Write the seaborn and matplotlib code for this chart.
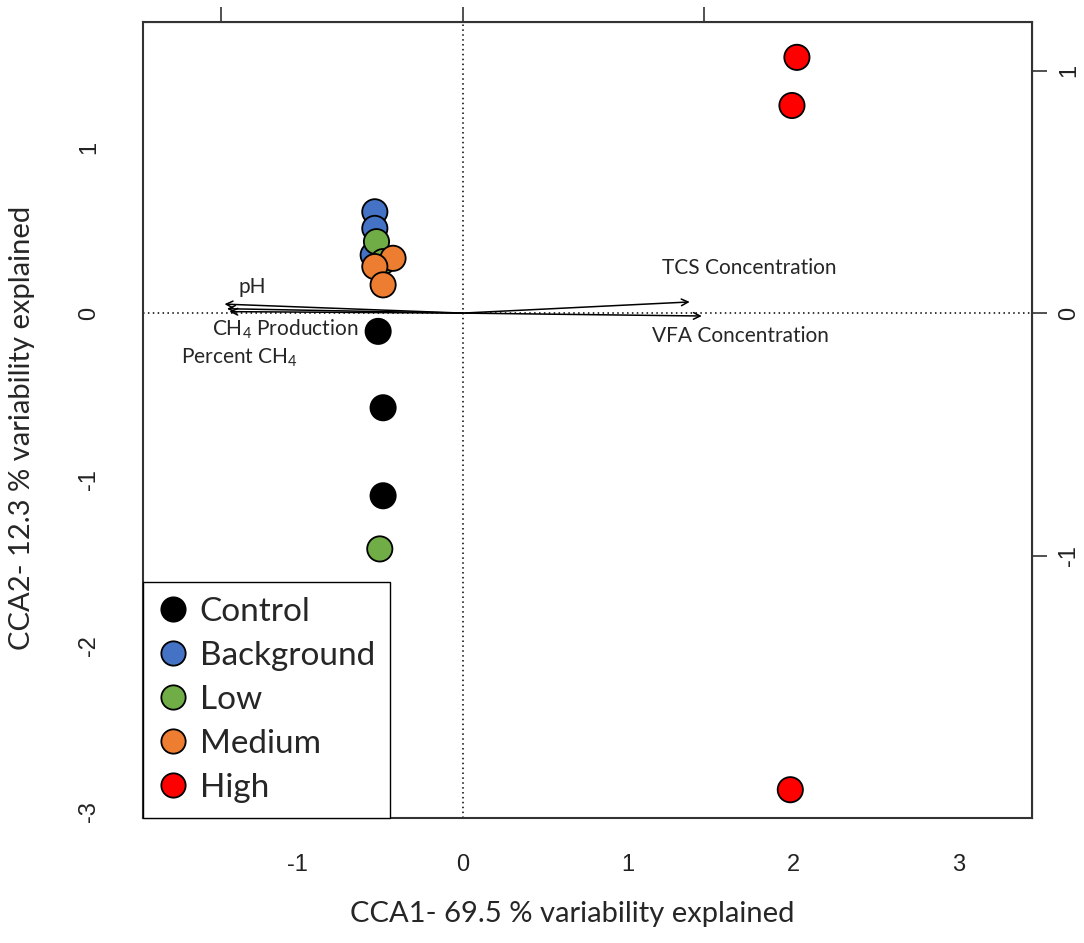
import numpy as np
import pandas as pd
import seaborn as sns
import matplotlib.pyplot as plt

# ------------------------------------------------
# Data (site scores)
# ------------------------------------------------
groups = ["Control", "Background", "Low", "Medium", "High"]
colors = ["#000000", "#4472C4", "#70AD47", "#ED7D31", "#FF0000"]

treatment = (["Control"] * 3 + ["Background"] * 3 + ["Low"] * 3
             + ["Medium"] * 3 + ["High"] * 3)
cca1 = [-0.51, -0.48, -0.48,
        -0.53, -0.53, -0.54,
        -0.50, -0.52, -0.48,
        -0.42, -0.53, -0.48,
        2.02, 1.99, 1.98]
cca2 = [-0.11, -0.57, -1.10,
        0.61, 0.51, 0.35,
        -1.42, 0.43, 0.31,
        0.33, 0.28, 0.17,
        1.54, 1.25, -2.87]

# environmental vectors (biplot scores, secondary axis units)
env_names = ["pH", "CH$_4$ Production", "Percent CH$_4$",
             "TCS Concentration", "VFA Concentration"]
env_x = [-0.985, -0.975, -0.965, 0.94, 0.99]
env_y = [0.037, 0.018, 0.006, 0.046, -0.012]
label_x = [-1.27, -1.07, -1.35, 1.73, 1.68]
label_y = [0.16, -0.10, -0.27, 0.27, -0.14]

arrow_mul = 1.46

df = pd.DataFrame({"CCA1": cca1, "CCA2": cca2, "Treatment": treatment})

# ------------------------------------------------
# Plot
# ------------------------------------------------
sns.set_style("white")
plt.rcParams["font.family"] = ["Liberation Sans", "DejaVu Sans"]
plt.rcParams["mathtext.default"] = "regular"
plt.rcParams["axes.unicode_minus"] = False
txt_font = ["Lato", "DejaVu Sans"]

fig = plt.figure(figsize=(10.84, 9.43), dpi=100)
ax = fig.add_axes([0.132, 0.1326, 0.820, 0.8441])

ax.axhline(0, color="black", lw=1.1, ls=(0, (1, 2.2)), zorder=1)
ax.axvline(0, color="black", lw=1.1, ls=(0, (1, 2.2)), zorder=1)

for ex, ey in zip(env_x, env_y):
    ax.annotate("", xy=(ex * arrow_mul, ey * arrow_mul), xytext=(0, 0),
                arrowprops=dict(arrowstyle="->", color="black", lw=1.1,
                                shrinkA=0, shrinkB=0, mutation_scale=12),
                zorder=2)
for name, lx, ly in zip(env_names, label_x, label_y):
    ax.text(lx, ly, name, ha="center", va="center", fontsize=15,
            family=txt_font, zorder=3)

sns.scatterplot(data=df, x="CCA1", y="CCA2", hue="Treatment",
                hue_order=groups, palette=colors, s=330,
                edgecolor="black", linewidth=1.3, ax=ax, zorder=4,
                legend=False)

ax.set_xlim(-1.93, 3.44)
ax.set_ylim(-3.04, 1.753)
ax.set_xticks([-1, 0, 1, 2, 3])
ax.set_yticks([-3, -2, -1, 0, 1])
ax.set_xlabel("")
ax.set_ylabel("")
ax.tick_params(axis="both", direction="out", length=11, width=1.2,
               labelsize=17, color="#333333", labelcolor="#222222")
ax.tick_params(axis="x", pad=15)
ax.tick_params(axis="y", pad=20)
for lab in ax.get_yticklabels():
    lab.set_rotation(90)
    lab.set_va("center")
for sp in ax.spines.values():
    sp.set_linewidth(1.5)
    sp.set_color("#333333")

# secondary axes for the arrow scale (top labels fall outside the figure)
top = ax.secondary_xaxis("top", functions=(lambda v: v / arrow_mul,
                                           lambda v: v * arrow_mul))
top.set_xticks([-1, 0, 1])
top.tick_params(direction="out", length=11, width=1.2, labeltop=False,
                color="#333333")
right = ax.secondary_yaxis("right", functions=(lambda v: v / arrow_mul,
                                               lambda v: v * arrow_mul))
right.set_yticks([-1, 0, 1])
right.tick_params(direction="out", length=11, width=1.2, labelsize=17,
                  color="#333333", labelcolor="#222222", pad=8)
for lab in right.get_yticklabels():
    lab.set_rotation(90)
    lab.set_va("center")

# legend
handles = [plt.Line2D([], [], marker="o", ls="", markersize=17.5,
                      markerfacecolor=c, markeredgecolor="black",
                      markeredgewidth=1.3) for c in colors]
leg = ax.legend(handles, groups, loc="lower left", bbox_to_anchor=(0, 0),
                borderaxespad=0, frameon=True, fancybox=False,
                edgecolor="black", framealpha=1, handletextpad=0.35,
                labelspacing=0.42, borderpad=0.45, handlelength=0.9,
                prop={"family": txt_font, "size": 24})
leg.get_frame().set_linewidth(1.0)

fig.text(0.528, 0.017, "CCA1- 69.5 % variability explained", ha="center",
         va="bottom", fontsize=21, family=txt_font)
fig.text(0.008, 0.546, "CCA2- 12.3 % variability explained", ha="left",
         va="center", rotation=90, fontsize=21, family=txt_font)

fig.savefig("out.png", dpi=100)
